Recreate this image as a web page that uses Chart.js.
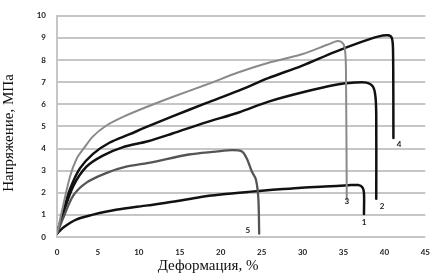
<!DOCTYPE html>
<html>
<head>
<meta charset="utf-8">
<script src="https://cdn.jsdelivr.net/npm/chart.js@4/dist/chart.umd.min.js"></script>
<style>
  html, body { margin: 0; padding: 0; background: #fff; }
  canvas { display: block; }
</style>
</head>
<body>
<canvas id="stressChart" width="441" height="276"></canvas>
<script>
// strain (%) / stress (MPa) pairs
var curve1 = [[0,0.15],[0.77,0.43],[2.4,0.8],[4.4,1.01],[7.2,1.23],[11.1,1.43],[14.1,1.59],[17.4,1.8],[20,1.92],[23.4,2.04],[26,2.12],[29.5,2.22],[32.7,2.28],[35.6,2.34],[36.8,2.35],[37.3,2.25],[37.5,2.0],[37.5,1.04]];
var curve2 = [[0,0.15],[0.77,1.08],[2.0,2.31],[3.6,3.18],[5.6,3.68],[8.0,4.05],[11.1,4.33],[14.1,4.68],[18.2,5.18],[22.2,5.63],[25.85,6.12],[29.9,6.53],[33.9,6.87],[36.4,6.98],[37.8,6.98],[38.6,6.8],[38.9,6.36],[39.0,5.5],[39.0,1.73]];
var curve3 = [[0,0.15],[0.77,1.45],[1.6,2.75],[2.4,3.54],[3.2,3.97],[4.4,4.55],[6.0,5.03],[8.0,5.42],[11.1,5.9],[14.1,6.33],[18.2,6.88],[22.2,7.45],[25.85,7.88],[29.9,8.26],[33.1,8.7],[34.3,8.86],[34.95,8.74],[35.2,8.4],[35.3,7.5],[35.4,1.7]];
var curve4 = [[0,0.15],[0.77,1.16],[1.6,2.17],[2.8,3.1],[4.4,3.76],[6.4,4.26],[8.9,4.65],[11.1,5.0],[14.1,5.45],[18.2,6.05],[22.2,6.62],[25.8,7.18],[29.9,7.74],[33.9,8.36],[37.2,8.82],[39.2,9.06],[40.4,9.12],[40.9,9.0],[41.05,8.45],[41.1,4.48]];
var curve5 = [[0,0.15],[0.77,0.87],[2.0,1.88],[3.6,2.46],[6.0,2.89],[8.45,3.18],[11.2,3.35],[16.1,3.73],[19.4,3.86],[21.4,3.93],[22.6,3.87],[23.2,3.54],[23.8,2.96],[24.3,2.6],[24.6,1.73],[24.7,0.15]];

var curveNames = ['1', '2', '3', '4', '5'];
var nameAt = [[37.5,0.67],[39.7,1.37],[35.4,1.62],[41.8,4.19],[23.3,0.29]];

var xTitle = 'Деформация, %';
var yTitle = 'Напряжение, МПа';

function pts(c) {
  return c.map(function (p) { return { x: p[0], y: p[1] }; });
}

// numbers next to the curve ends + serif axis titles
var curveLabels = {
  id: 'curveLabels',
  afterDatasetsDraw: function (chart) {
    var ctx = chart.ctx, xs = chart.scales.x, ys = chart.scales.y;
    ctx.save();
    ctx.fillStyle = '#222';
    ctx.font = 'bold 8px Lato';
    ctx.textAlign = 'center';
    ctx.textBaseline = 'middle';
    for (var i = 0; i < curveNames.length; i++) {
      ctx.fillText(curveNames[i], xs.getPixelForValue(nameAt[i][0]), ys.getPixelForValue(nameAt[i][1]));
    }
    ctx.fillStyle = '#111';
    ctx.font = '15px "Liberation Serif"';
    ctx.fillText(xTitle, 208, 266);
    ctx.translate(9, 133);
    ctx.rotate(-Math.PI / 2);
    ctx.fillText(yTitle, 0, 0);
    ctx.restore();
  }
};

var ctx = document.getElementById('stressChart').getContext('2d');
var myChart = new Chart(ctx, {
  type: 'line',
  data: {
    datasets: [
      { label: '3', data: pts(curve3), borderColor: '#8a8a8a', borderWidth: 2 },
      { label: '5', data: pts(curve5), borderColor: '#555', borderWidth: 2.3 },
      { label: '1', data: pts(curve1), borderColor: '#111', borderWidth: 2.5 },
      { label: '2', data: pts(curve2), borderColor: '#111', borderWidth: 2.5 },
      { label: '4', data: pts(curve4), borderColor: '#111', borderWidth: 2.5 }
    ]
  },
  options: {
    responsive: false,
    animation: false,
    layout: { padding: { top: 6, right: 13, bottom: 0, left: 0 } },
    elements: { point: { radius: 0 }, line: { tension: 0.3, fill: false, borderJoinStyle: 'round', borderCapStyle: 'round' } },
    plugins: { legend: { display: false }, tooltip: { enabled: false } },
    scales: {
      x: {
        type: 'linear', min: 0, max: 45,
        afterFit: function (s) { s.height = 39; },
        grid: { display: false, drawTicks: false },
        border: { display: false },
        ticks: { stepSize: 5, padding: 11, color: '#222', font: { size: 8, weight: 'bold', family: 'Lato' } }
      },
      y: {
        min: 0, max: 10,
        afterFit: function (s) { s.width = 57; },
        grid: { color: '#c6c6c6', lineWidth: 2, drawTicks: false },
        border: { display: true, color: '#c6c6c6', width: 2 },
        ticks: { stepSize: 1, padding: 11, color: '#222', font: { size: 8, weight: 'bold', family: 'Lato' } }
      }
    }
  },
  plugins: [curveLabels]
});
</script>
</body>
</html>
